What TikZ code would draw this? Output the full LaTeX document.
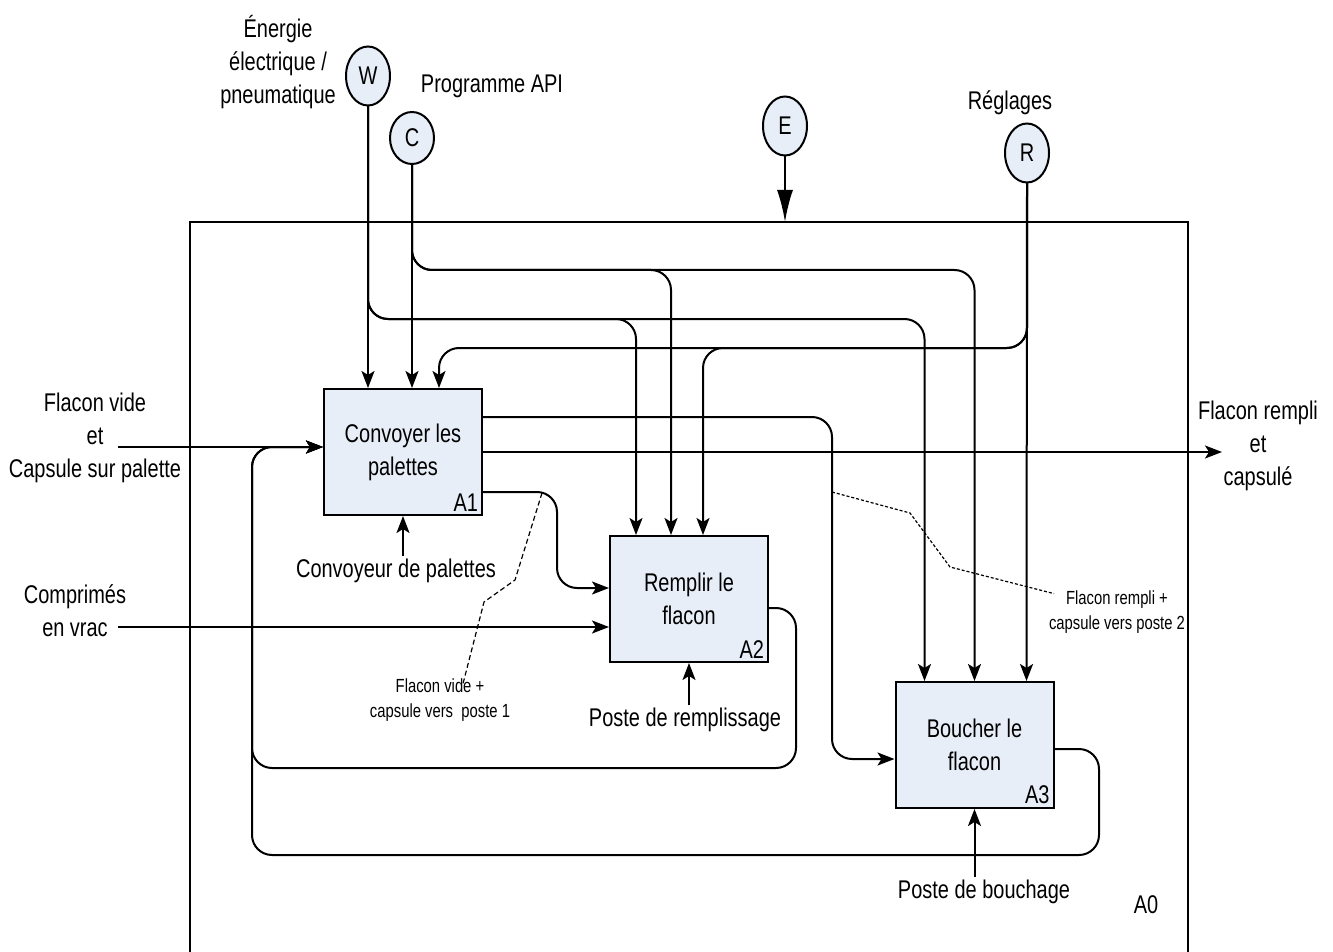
\documentclass[tikz,border=0pt]{standalone}
\usepackage{fontspec}
\setmainfont{Liberation Sans}[FakeStretch=0.78]
\usetikzlibrary{arrows.meta,shapes.geometric}
\definecolor{boxfill}{RGB}{232,238,248}

\begin{document}
\begin{tikzpicture}[x=0.5pt,y=-0.5pt,line width=1pt,
    >={Stealth[length=8.5pt,width=6.5pt,inset=2pt]},
    every node/.style={font=\fontsize{12.8}{16.5}\selectfont},
    activity/.style={draw,fill=boxfill,minimum width=79pt,minimum height=63pt,align=center,inner sep=0pt},
    ctrl/.style={draw,ellipse,fill=boxfill,minimum width=22pt,minimum height=29.5pt,inner sep=0pt},
    lbl/.style={align=center,inner sep=1pt},
    small/.style={align=center,inner sep=1pt,font=\fontsize{9.5}{12.5}\selectfont},
    flow/.style={->,rounded corners=10pt},
    note/.style={line width=0.6pt,dash pattern=on 2.5pt off 1.5pt}]

    \useasboundingbox (0,0) rectangle (1333,952);

    % frame A0
    \coordinate (A0nw) at (190,222);
    \draw (190,960) |- (1188,222) -- (1188,960);
    \node at (1146,905) {A0};

    % activities
    \node[activity] (A1) at (403,452) {Convoyer les\\palettes};
    \node[activity] (A2) at (689,599) {Remplir le\\flacon};
    \node[activity] (A3) at (974.5,745) {Boucher le\\flacon};
    \node[anchor=south east,inner sep=2pt] at (A1.south east) {A1};
    \node[anchor=south east,inner sep=2pt] at (A2.south east) {A2};
    \node[anchor=south east,inner sep=2pt] at (A3.south east) {A3};

    % controls
    \node[ctrl] (W) at (368,76) {W};
    \node[ctrl,minimum height=26pt] (C) at (412,138) {C};
    \node[ctrl] (E) at (785,126) {E};
    \node[ctrl] (R) at (1027,153) {R};
    \node[lbl] (lW) at (278,62) {Énergie\\électrique /\\pneumatique};
    \node[lbl] (lC) at (492,86) {Programme API};
    \node[lbl] (lR) at (1010,103) {Réglages};

    \draw[->,>={Latex[length=16pt,width=8pt]}] (E.south) -- (E.south |- A0nw);

    \draw[flow] (W.south) -- ([xshift=-17.5pt]A1.north);
    \draw[flow] (W.south) |- (500,319) -| ([xshift=-26.5pt]A2.north);
    \draw[flow] (W.south) |- (500,319) -| ([xshift=-25pt]A3.north);

    \draw[flow] (C.south) -- ([xshift=4.5pt]A1.north);
    \draw[flow] (C.south) |- (500,270) -| ([xshift=-9pt]A2.north);
    \draw[flow] (C.south) |- (500,270) -| (A3.north);

    \draw[flow] (R.south) -- ([xshift=26pt]A3.north);
    \draw[flow] (R.south) |- (800,348) -| ([xshift=7pt]A2.north);
    \draw[flow] (R.south) |- (800,348) -| ([xshift=18pt]A1.north);

    % inputs
    \coordinate (in1) at (118,447);
    \coordinate (in2) at (118,627);
    \node[lbl] (lin1) at (95,438) {Flacon vide\\et\\Capsule sur palette};
    \node[lbl] (lin2) at (75,611) {Comprimés\\en vrac};
    \draw[flow] (in1) -- ([yshift=2.5pt]A1.west);
    \draw[flow] (in2) -- ([yshift=-14pt]A2.west);

    % outputs
    \coordinate (out) at (1222,452);
    \node[lbl] (lout) at (1258,446) {Flacon rempli\\et\\capsulé};
    \draw[flow] (A1.east) -- (out);
    \draw[flow] ([yshift=-20pt]A1.east) -| (557,540) |- ([yshift=5.5pt]A2.west);
    \draw[flow] ([yshift=17.5pt]A1.east) -| (832,600) |- ([yshift=-7pt]A3.west);

    % loops back
    \draw[flow] ([yshift=-4.5pt]A2.east) -| (796,700) |- (252,768) |- ([yshift=2.5pt]A1.west);
    \draw[flow] ([yshift=-2pt]A3.east) -| (1099,800) |- (252,855) |- ([yshift=2.5pt]A1.west);

    % mechanisms
    \node[lbl] (m1) at (396,571) {Convoyeur de palettes};
    \node[lbl] (m2) at (685,720) {Poste de remplissage};
    \node[lbl] (m3) at (984,892) {Poste de bouchage};
    \draw[->] (A1.south |- m1.north) -- (A1.south);
    \draw[->] (A2.south |- m2.north) -- (A2.south);
    \draw[->] (A3.south |- m3.north) -- (A3.south);

    % notes
    \node[small] (n1) at (440,700) {Flacon vide +\\capsule vers\ \ poste 1};
    \node[small] (n2) at (1117,612) {Flacon rempli +\\capsule vers poste 2};
    \draw[note] (542,493) -- (515,580) -- (484,602) -- ([xshift=11.5pt,yshift=-4pt]n1.north);
    \draw[note,dash pattern=on 1.5pt off 1pt] (832,492) -- (910,513) -- (950,567) -- ([xshift=4pt,yshift=-3pt]n2.north west);
\end{tikzpicture}
\end{document}
